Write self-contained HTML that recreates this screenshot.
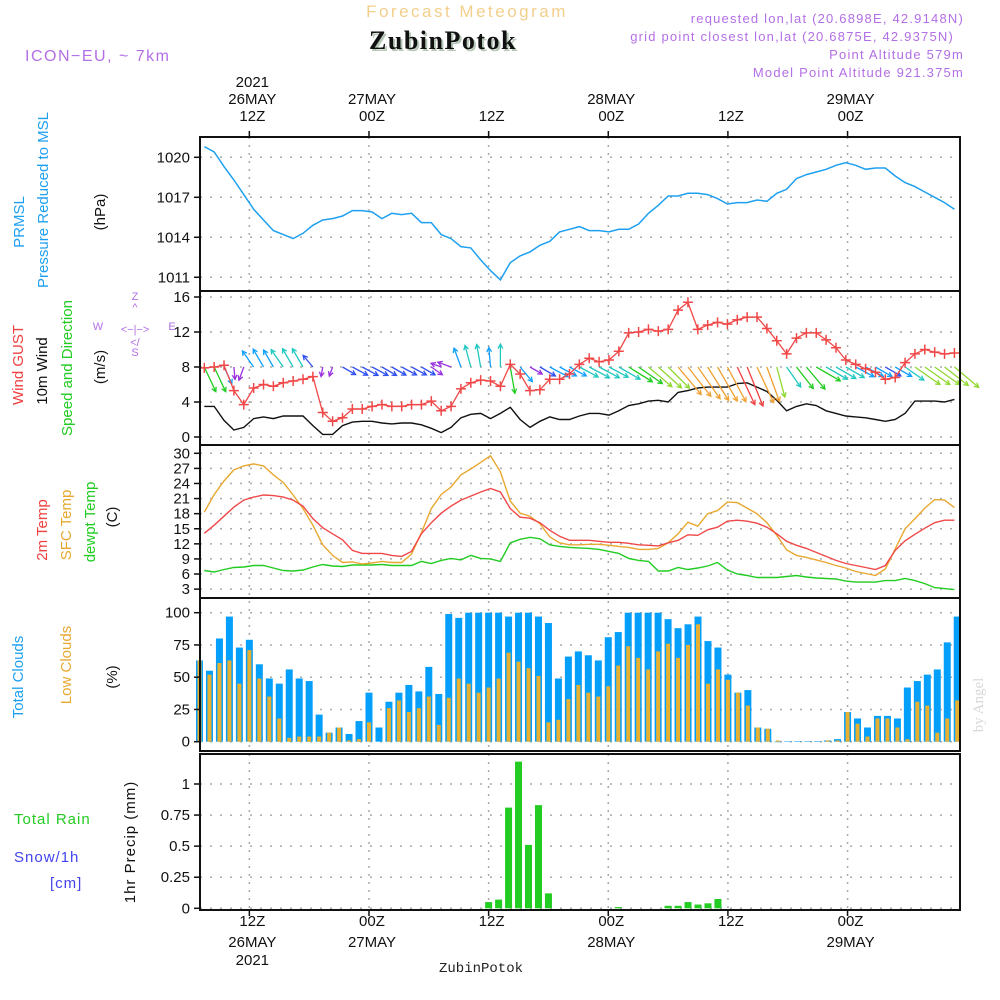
<!DOCTYPE html>
<html><head><meta charset="utf-8"><title>Forecast Meteogram ZubinPotok</title>
<style>
html,body{margin:0;padding:0;background:#fff;}
svg{display:block;font-family:"Liberation Sans",sans-serif;}
.tk{font-size:15px;fill:#111;text-anchor:end;}
.tx{font-size:15px;fill:#111;text-anchor:middle;}
</style></head>
<body>
<svg id="chart" width="1000" height="1000" viewBox="0 0 1000 1000" xmlns="http://www.w3.org/2000/svg">
<rect width="1000" height="1000" fill="#fff"/>
<text x="467" y="17" text-anchor="middle" font-size="17" fill="#f3cf8c" letter-spacing="2.5">Forecast Meteogram</text>
<text x="445" y="51" text-anchor="middle" font-family="Liberation Serif,serif" font-weight="bold" font-size="26" fill="#b8c8b8" letter-spacing="1.5">ZubinPotok</text>
<text x="443" y="49" text-anchor="middle" font-family="Liberation Serif,serif" font-weight="bold" font-size="26" fill="#111" letter-spacing="1.5">ZubinPotok</text>
<text x="25" y="61" font-size="16" fill="#b36fe6" letter-spacing="1.5">ICON−EU, ~ 7km</text>
<g font-size="13" fill="#b36fe6" text-anchor="end" letter-spacing="1.2">
<text x="964" y="23">requested lon,lat (20.6898E, 42.9148N)</text>
<text x="954" y="41">grid point closest lon,lat (20.6875E, 42.9375N)</text>
<text x="964" y="59">Point Altitude 579m</text>
<text x="964" y="77">Model Point Altitude 921.375m</text>
</g>
<g id="grid"></g>
<g id="marks"></g>
<g fill="none" stroke="#111" stroke-width="2">
<rect x="200" y="137" width="760" height="614"/>
<line x1="200" y1="291" x2="960" y2="291"/>
<line x1="200" y1="445" x2="960" y2="445"/>
<line x1="200" y1="598" x2="960" y2="598"/>
<rect x="200" y="754" width="760" height="156"/>
</g>
<g id="axes"></g>
<!-- left side labels -->
<g font-size="15">
<text transform="translate(24,222) rotate(-90)" text-anchor="middle" fill="#1ea0f0">PRMSL</text>
<text transform="translate(48,200) rotate(-90)" text-anchor="middle" fill="#1ea0f0">Pressure Reduced to MSL</text>
<text transform="translate(105,212) rotate(-90)" text-anchor="middle" fill="#111">(hPa)</text>
</g>
<g font-size="15">
<text transform="translate(23,365) rotate(-90)" text-anchor="middle" fill="#f04040">Wind GUST</text>
<text transform="translate(47,371) rotate(-90)" text-anchor="middle" fill="#111">10m Wind</text>
<text transform="translate(72,368) rotate(-90)" text-anchor="middle" fill="#22cc22">Speed and Direction</text>
<text transform="translate(105,367) rotate(-90)" text-anchor="middle" fill="#111">(m/s)</text>
</g>
<g font-size="11" fill="#b36fe6" text-anchor="middle">
<text x="135" y="300">Z</text><text x="135" y="311">^</text><text x="135" y="333">&lt;−|−&gt;</text>
<text x="98" y="330">W</text><text x="172" y="330">E</text>
<text x="135" y="346">&lt;/</text><text x="135" y="356">S</text>
</g>
<g font-size="15">
<text transform="translate(47,530) rotate(-90)" text-anchor="middle" fill="#f04040">2m Temp</text>
<text transform="translate(71,525) rotate(-90)" text-anchor="middle" fill="#e8a830">SFC Temp</text>
<text transform="translate(95,522) rotate(-90)" text-anchor="middle" fill="#22cc22">dewpt Temp</text>
<text transform="translate(117,517) rotate(-90)" text-anchor="middle" fill="#111">(C)</text>
</g>
<g font-size="15">
<text transform="translate(23,677) rotate(-90)" text-anchor="middle" fill="#1ea0f0">Total Clouds</text>
<text transform="translate(71,665) rotate(-90)" text-anchor="middle" fill="#e8a830">Low Clouds</text>
<text transform="translate(117,677) rotate(-90)" text-anchor="middle" fill="#111">(%)</text>
</g>
<g font-size="15" letter-spacing="1">
<text x="14" y="824" fill="#22cc22">Total  Rain</text>
<text x="14" y="862" fill="#4444ee">Snow/1h</text>
<text x="50" y="888" fill="#4444ee">[cm]</text>
<text transform="translate(135,842) rotate(-90)" text-anchor="middle" fill="#111">1hr Precip (mm)</text>
</g>
<text transform="translate(983,705) rotate(-90)" text-anchor="middle" font-family="Liberation Serif,serif" font-size="15" fill="#d8d8d8">by Angel</text>
<text x="481" y="972" text-anchor="middle" font-family="Liberation Mono,monospace" font-size="14" fill="#222">ZubinPotok</text>
</svg>
<script>
// ---- data ----
const timeTicks = [5, 17, 29, 41, 53, 65];
const topLabels1 = ["12Z", "00Z", "12Z", "00Z", "12Z", "00Z"];
const topLabels2 = ["26MAY", "27MAY", "", "28MAY", "", "29MAY"];
const topLabels3 = ["2021", "", "", "", "", ""];
const pressureTicks = [1011, 1014, 1017, 1020];
const windTicks = [0, 4, 8, 12, 16];
const tempTicks = [3, 6, 9, 12, 15, 18, 21, 24, 27, 30];
const cloudTicks = [0, 25, 50, 75, 100];
const precipTicks = [0, 0.25, 0.5, 0.75, 1];
const precipTickLabels = ["0", "0.25", "0.5", "0.75", "1"];
const pressure = [1020.8,1020.4,1019.3,1018.3,1017.2,1016.1,1015.3,1014.5,1014.2,1013.9,1014.3,1014.9,1015.3,1015.4,1015.6,1016.0,1016.0,1015.9,1015.4,1015.8,1015.7,1015.8,1015.1,1015.1,1014.2,1013.9,1013.3,1013.2,1012.3,1011.5,1010.8,1012.1,1012.6,1012.9,1013.4,1013.7,1014.4,1014.6,1014.8,1014.5,1014.5,1014.4,1014.6,1014.6,1015.0,1015.8,1016.4,1017.1,1017.1,1017.3,1017.3,1017.2,1016.9,1016.5,1016.6,1016.6,1016.8,1016.7,1017.3,1017.6,1018.4,1018.7,1018.9,1019.1,1019.4,1019.6,1019.4,1019.1,1019.2,1019.2,1018.6,1018.1,1017.8,1017.4,1017.0,1016.6,1016.1];
const gust = [7.9,8.0,8.2,5.3,3.7,5.6,6.0,5.8,6.2,6.4,6.6,6.9,2.8,1.8,2.2,3.2,3.2,3.5,3.7,3.5,3.5,3.7,3.7,4.1,3.0,3.5,5.5,6.2,6.5,6.4,5.8,8.3,7.2,5.3,5.4,6.6,6.6,7.2,8.3,9.0,8.6,8.8,9.8,11.9,12.0,12.3,12.1,12.3,14.5,15.4,12.3,12.8,13.1,12.9,13.4,13.7,13.7,12.4,11.0,9.5,11.3,11.9,11.9,11.1,10.2,8.8,8.3,7.8,7.4,6.6,6.8,8.5,9.5,10.0,9.7,9.5,9.6];
const windSpeed = [3.5,3.5,1.9,0.8,1.1,2.1,2.3,2.1,2.4,2.4,2.4,1.3,0.3,0.3,1.3,1.7,1.8,1.8,1.6,1.5,1.6,1.6,1.4,1.0,0.5,1.1,2.2,2.6,2.7,2.1,2.7,3.4,2.0,1.1,1.8,2.3,2.0,2.0,2.4,2.7,2.7,2.5,3.0,3.6,3.8,4.1,4.2,4.0,5.1,5.3,5.6,5.7,5.7,5.7,6.1,6.2,5.7,5.2,4.2,3.0,3.5,3.8,3.6,3.0,2.7,2.4,2.3,2.2,2.0,1.8,2.0,2.7,4.1,4.1,4.1,4.0,4.3];
const windDir = [335,335,335,355,20,145,150,150,145,150,150,140,10,20,300,298,298,298,300,300,298,298,300,305,110,110,160,165,170,175,180,350,320,300,300,298,298,298,298,298,298,298,300,302,305,310,312,315,320,322,325,328,330,332,335,338,335,340,345,325,322,320,300,300,300,300,298,298,300,300,300,305,305,305,305,308,310];
const temp2m = [14.1,15.7,17.5,19.3,20.7,21.3,21.7,21.6,21.3,20.7,19.5,17.0,15.2,14.0,12.8,10.7,10.1,10.1,10.1,9.7,9.5,10.5,14.0,16.2,18.1,19.5,20.7,21.5,22.3,23.0,22.3,19.0,17.3,17.1,16.2,14.7,13.5,12.7,12.7,12.7,12.5,12.3,12.3,12.1,11.8,11.7,11.6,12.2,12.7,13.8,13.7,14.8,15.3,16.5,16.7,16.5,16.1,15.3,14.0,12.5,11.7,11.1,10.3,9.5,8.7,8.1,7.7,7.3,6.9,7.7,10.7,12.6,13.9,15.1,16.2,16.7,16.7];
const tempSfc = [18.3,21.8,24.5,26.7,27.5,27.9,27.5,25.7,24.2,21.7,19.0,15.7,11.8,9.7,8.3,8.4,8.0,8.2,8.5,8.3,8.3,10.0,14.2,19.0,21.8,23.3,25.7,26.9,28.2,29.5,26.3,20.5,18.1,17.5,16.0,13.4,12.2,11.8,11.8,11.9,11.9,11.7,11.5,11.3,10.9,10.9,11.1,12.2,14.0,16.3,15.5,18.0,18.6,20.3,20.2,19.1,18.0,16.2,13.7,10.8,9.7,9.3,8.8,8.3,7.7,7.2,6.5,6.1,5.7,7.0,11.0,15.0,17.0,19.1,20.8,20.7,19.2];
const dewpoint = [6.7,6.4,6.9,7.3,7.4,7.7,7.7,7.2,6.7,6.6,6.8,7.4,7.9,7.6,7.5,7.8,7.8,7.8,7.9,7.7,7.7,7.7,8.5,8.1,8.7,9.1,8.8,9.7,9.1,9.0,8.5,12.2,12.9,13.3,13.0,11.8,11.5,11.3,11.2,11.1,10.9,10.5,10.1,9.1,8.7,8.5,6.6,6.6,7.3,6.9,7.2,7.6,8.3,6.8,6.0,5.7,5.3,5.3,5.3,5.5,5.7,5.4,5.2,5.1,5.0,4.6,4.4,4.4,4.4,4.7,4.7,5.1,4.7,4.1,3.3,3.1,2.9];
const totalClouds = [63,55,80,97,73,79,60,49,45,56,49,47,21,7,11,6,16,38,11,31,38,44,39,58,37,99,96,100,100,100,100,97,100,100,97,92,49,66,70,67,63,81,85,100,100,100,100,95,88,91,97,78,73,52,38,40,11,10,0,0.3,0.3,0.3,0.3,1,2,23,18,11,20,20,18,42,47,52,56,77,97];
const lowClouds = [63,52,61,63,45,71,49,35,18,3,4,4,4,7,11,1,2,15,0,26,32,23,26,35,13,34,49,45,38,42,49,69,62,57,51,15,17,33,44,38,35,43,59,74,65,56,70,76,65,75,91,45,56,48,38,28,11,10,1,0,0,0,0,1,1,23,14,4,18,18,11,2,31,28,7,18,32];
const precipHours = [29,30,31,32,33,34,35,42,47,48,49,50,51,52];
const precipValues = [0.05,0.07,0.81,1.18,0.51,0.83,0.12,0.01,0.02,0.02,0.05,0.03,0.04,0.075];

// ---- scales ----
function xBar(h){ return 199.5 + 9.97*h; }
function xLine(k){ return 204.3 + 9.87*k; }
function yP(v){ return 157.3 + (1020 - v)*13.33; }
function yW(v){ return 437 - v*8.75; }
function yT(v){ return 453.3 + (30 - v)*5.03; }
function yC(v){ return 741.7 - v*1.29; }
function yR(v){ return 908.3 - v*124.3; }

const NS = "http://www.w3.org/2000/svg";
function mk(tag, attrs, parent){
  const e = document.createElementNS(NS, tag);
  for (const k in attrs) e.setAttribute(k, attrs[k]);
  parent.appendChild(e); return e;
}
const grid = document.getElementById('grid');
const marks = document.getElementById('marks');
const axes = document.getElementById('axes');

// vertical grid lines
timeTicks.forEach(function(h){
  const x = xBar(h);
  [[137,751],[754,910]].forEach(function(r){
    const l = mk('line', {x1:x, x2:x, y1:r[0], y2:r[1], stroke:'#aaa', 'stroke-width':1.5, 'stroke-dasharray':'2,6'}, grid);
    
    
  });
});
function hgrid(ticks, yf, fmt, name, fs){
  ticks.forEach(function(v, i){
    const y = yf(v);
    const l = mk('line', {x1:200, x2:960, y1:y, y2:y, stroke:'#aaa', 'stroke-width':1.5, 'stroke-dasharray':'2,8'}, grid);
    
    
    const t = mk('line', {x1:194, x2:200, y1:y, y2:y, stroke:'#111', 'stroke-width':1.5}, axes);
    
    
    const tx = mk('text', {x:190, y:y+5, class:'tk', 'font-size':fs}, axes);
    tx.textContent = fmt ? fmt[i] : String(v);
    
    
  });
}
hgrid(pressureTicks, yP, null, 'pressure', 15);
hgrid(windTicks, yW, null, 'wind', 15);
hgrid(tempTicks, yT, null, 'temperature', 15);
hgrid(cloudTicks, yC, null, 'cloud', 15);
hgrid(precipTicks, yR, precipTickLabels, 'precip', 15);

// time axis labels
timeTicks.forEach(function(h, i){
  const x = xBar(h) + 3;
  [[121, topLabels1[i]], [104, topLabels2[i]], [87, topLabels3[i]]].forEach(function(p){
    if (!p[1]) return;
    const t = mk('text', {x:x, y:p[0], class:'tx'}, axes);
    t.textContent = p[1];
    
    
  });
  [[926, topLabels1[i]], [947, topLabels2[i]], [965, topLabels3[i]]].forEach(function(p){
    if (!p[1]) return;
    const t = mk('text', {x:x, y:p[0], class:'tx'}, axes);
    t.textContent = p[1];
    
    
  });
  const tk1 = mk('line', {x1:xBar(h), x2:xBar(h), y1:131, y2:137, stroke:'#111', 'stroke-width':1.5}, axes);
  
  
  const tk2 = mk('line', {x1:xBar(h), x2:xBar(h), y1:910, y2:916, stroke:'#111', 'stroke-width':1.5}, axes);
  
  
});

function line(arr, yf, color, name, w){
  const pts = arr.map(function(v, k){ return xLine(k).toFixed(1) + ',' + yf(v).toFixed(1); }).join(' ');
  const p = mk('polyline', {points:pts, fill:'none', stroke:color, 'stroke-width':w || 1.4}, marks);
  
  
}

// panel 1 pressure
line(pressure, yP, '#1ea0f0', 'pressure-line', 1.5);

// panel 2 wind
line(windSpeed, yW, '#111', 'wind-speed-line', 1.4);
function speedColor(s){
  if (s < 1.2) return '#9a30e0';
  if (s < 1.9) return '#3050f0';
  if (s < 2.4) return '#10a0ff';
  if (s < 3.2) return '#20c8c0';
  if (s < 4.0) return '#20cc20';
  if (s < 4.8) return '#90d830';
  if (s < 5.9) return '#f0a030';
  return '#f04040';
}
windDir.forEach(function(d, k){
  const s = windSpeed[k];
  const len = 8 + 5.5*s;
  const rad = d*Math.PI/180;
  const dx = -Math.sin(rad), dy = Math.cos(rad);
  const x0 = xLine(k), y0 = yW(8);
  const x1 = x0 + dx*len, y1 = y0 + dy*len;
  const c = speedColor(s);
  const g = mk('g', {stroke:c, 'stroke-width':1.3, fill:'none'}, marks);
  
  
  mk('line', {x1:x0, y1:y0, x2:x1, y2:y1}, g);
  const a = Math.atan2(dy, dx), hl = 5;
  mk('polyline', {points:(x1 - hl*Math.cos(a-0.5)) + ',' + (y1 - hl*Math.sin(a-0.5)) + ' ' + x1 + ',' + y1 + ' ' + (x1 - hl*Math.cos(a+0.5)) + ',' + (y1 - hl*Math.sin(a+0.5))}, g);
});
line(gust, yW, '#f04848', 'wind-gust-line', 1.3);
gust.forEach(function(v, k){
  const x = xLine(k), y = yW(v);
  const p = mk('path', {d:'M' + (x-5) + ' ' + y + 'H' + (x+5) + 'M' + x + ' ' + (y-5) + 'V' + (y+5), stroke:'#f04848', 'stroke-width':1.5}, marks);
  
  
});

// panel 3 temperatures
line(dewpoint, yT, '#22cc22', 'dewpoint-line', 1.4);
line(tempSfc, yT, '#e8a830', 'sfc-temp-line', 1.4);
line(temp2m, yT, '#f04848', 'temp-2m-line', 1.4);

// panel 4 clouds
totalClouds.forEach(function(v, h){
  const x = xBar(h);
  const r = mk('rect', {x:x-3.5, y:yC(v), width:7, height:Math.max(0.5, yC(0)-yC(v)), fill:'#049ffa'}, marks);
  
  
  const lv = lowClouds[h];
  const r2 = mk('rect', {x:x-2, y:yC(lv), width:4, height:Math.max(0, yC(0)-yC(lv)), fill:'#e8b030'}, marks);
  
  
});

// panel 5 precipitation
precipHours.forEach(function(h, i){
  const v = precipValues[i];
  const x = xBar(h);
  const r = mk('rect', {x:x-3.5, y:yR(v), width:7, height:yR(0)-yR(v), fill:'#22cc22'}, marks);
  
  
});
</script>
</body></html>
